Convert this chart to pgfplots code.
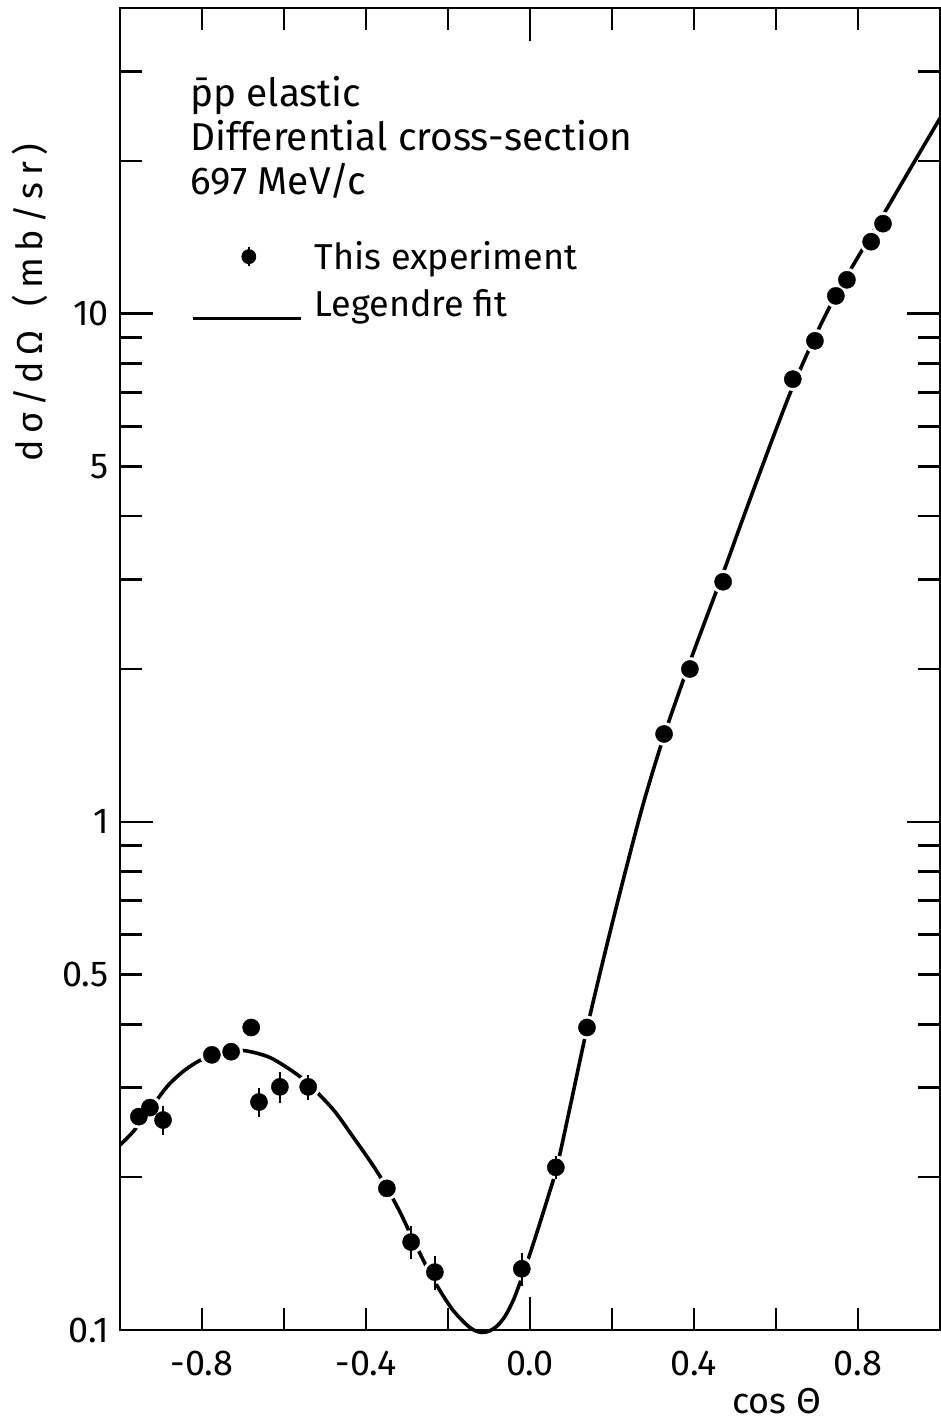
\documentclass[border=0pt]{standalone}
\usepackage{fontspec}
\setmainfont{Fira Sans}
\usepackage{pgfplots}
\usepackage{pgfplotstable}
\pgfplotsset{compat=1.18}
\newcommand{\fs}{\fontsize{18pt}{22pt}\selectfont}
\newcommand{\fb}{\fontsize{19.4pt}{22pt}\selectfont}

\pgfplotstableread{
x y ey
-0.954 0.263 0.007
-0.927 0.274 0.007
-0.895 0.259 0.017
-0.776 0.348 0.010
-0.729 0.353 0.010
-0.680 0.394 0.010
-0.661 0.281 0.019
-0.610 0.301 0.021
-0.541 0.301 0.017
-0.349 0.190 0.006
-0.290 0.149 0.011
-0.232 0.130 0.010
-0.020 0.132 0.010
0.063 0.209 0.011
0.139 0.394 0.013
0.327 1.49 0.04
0.390 2.00 0.05
0.471 2.97 0.07
0.641 7.44 0.18
0.695 8.85 0.20
0.746 10.85 0.25
0.773 11.67 0.28
0.832 13.87 0.30
0.861 15.05 0.35
}\expdata

\pgfplotstableread{
x y
-1.000 0.2312
-0.968 0.2457
-0.927 0.2716
-0.885 0.3015
-0.846 0.3228
-0.805 0.3393
-0.756 0.3503
-0.702 0.3551
-0.641 0.3456
-0.593 0.3287
-0.544 0.3071
-0.480 0.2716
-0.432 0.2402
-0.383 0.2109
-0.349 0.1905
-0.317 0.1706
-0.288 0.1524
-0.251 0.1327
-0.220 0.1197
-0.188 0.1094
-0.154 0.1023
-0.135 0.0998
-0.118 0.0989
-0.100 0.0995
-0.080 0.1019
-0.060 0.1067
-0.040 0.1148
-0.020 0.1268
0.000 0.1413
0.020 0.1585
0.044 0.1828
0.066 0.2099
0.098 0.2754
0.139 0.3926
0.183 0.5534
0.227 0.7674
0.276 1.084
0.327 1.479
0.390 2.065
0.471 3.090
0.512 3.811
0.554 4.710
0.598 5.861
0.641 7.194
0.695 9.016
0.746 10.89
0.800 12.94
0.832 14.29
0.871 16.14
0.932 19.59
1.000 24.27
}\fitdata

\begin{document}
\begin{tikzpicture}
\path[use as bounding box] (0,0) rectangle (470.5pt,712pt);
\begin{axis}[
  at={(60pt,47pt)}, anchor=south west,
  scale only axis, width=410pt, height=661pt,
  ymode=log,
  xmin=-1, xmax=1, ymin=0.1, ymax=40,
  clip=false,
  axis line style={line width=1.4pt},
  every tick/.style={black, line width=1.4pt},
  tick align=inside,
  major tick length=16.5pt, minor tick length=11pt,
  xtick={0}, xticklabels={0.0},
  extra x ticks={-0.8,-0.4,0.4,0.8},
  extra x tick labels={-0.8,-0.4,0.4,0.8},
  extra x tick style={major tick length=11pt},
  minor xtick={-0.6,-0.2,0.2,0.6},
  ytick={0.1,1,10}, yticklabels={0.1,1,10},
  minor ytick={0.2,0.3,0.4,0.5,0.6,0.7,0.8,0.9,2,3,4,5,6,7,8,9,20,30},
  extra y ticks={0.5,5}, extra y tick labels={0.5,5},
  extra y tick style={major tick length=11pt},
  tick label style={font=\fs},
  xticklabel style={yshift=-7pt},
  yticklabel style={xshift=-2pt},
  xlabel={cos Θ},
  ylabel={\addfontfeatures{LetterSpace=18}dσ/dΩ\hspace{4pt} (mb/sr)},
  label style={font=\fs},
  xlabel style={at={(axis description cs:0.801,-0.0628)}, anchor=base},
  ylabel style={at={(axis description cs:-0.11,0.777)}, anchor=center},
  legend style={at={(axis description cs:0.0793,0.83)}, anchor=north west,
    draw=none, fill=none, font=\fs, row sep=4.5pt},
  legend cell align=left,
]
\addplot[black, line width=1.8pt, smooth, tension=0.5, forget plot] table[x=x,y=y]{\fitdata};
\addplot[white, only marks, mark=*, mark size=5.9pt, mark options={fill=white, draw=white, line width=0.1pt}, forget plot] table[x=x,y=y]{\expdata};
\addlegendimage{legend image code/.code={\path[draw=none,fill=none] (0pt,0pt) -- (59pt,0pt); \draw[black, line width=1.3pt] (28pt,-4.8pt) -- (28pt,4.8pt); \fill[black] (28pt,0pt) circle (3.5pt);}}
\addlegendentry{This experiment}
\addlegendimage{legend image code/.code={\path[draw=none,fill=none] (0pt,0pt) -- (59pt,0pt); \draw[black, line width=1.4pt] (0pt,-7pt) -- (54pt,-7pt);}}
\addlegendentry{Legendre fit}
\node[anchor=base west, align=left, font=\fb, inner sep=0pt] at (axis description cs:0.0854,0.859)
  {\=pp elastic\\Differential cross-section\\697 MeV/c};
\end{axis}
\begin{axis}[
  at={(60pt,47pt)}, anchor=south west,
  scale only axis, width=410pt, height=661pt,
  ymode=log,
  xmin=-1, xmax=1, ymin=0.1, ymax=40,
  clip=false, hide axis]
\addplot[black, only marks, mark=*, mark size=4.3pt, mark options={fill=black, draw=black, line width=0.2pt},
  error bars/.cd, y dir=both, y explicit, error mark=none,
  error bar style={line width=1.3pt, black}]
  table[x=x,y=y,y error=ey]{\expdata};
\end{axis}
\end{tikzpicture}
\end{document}
